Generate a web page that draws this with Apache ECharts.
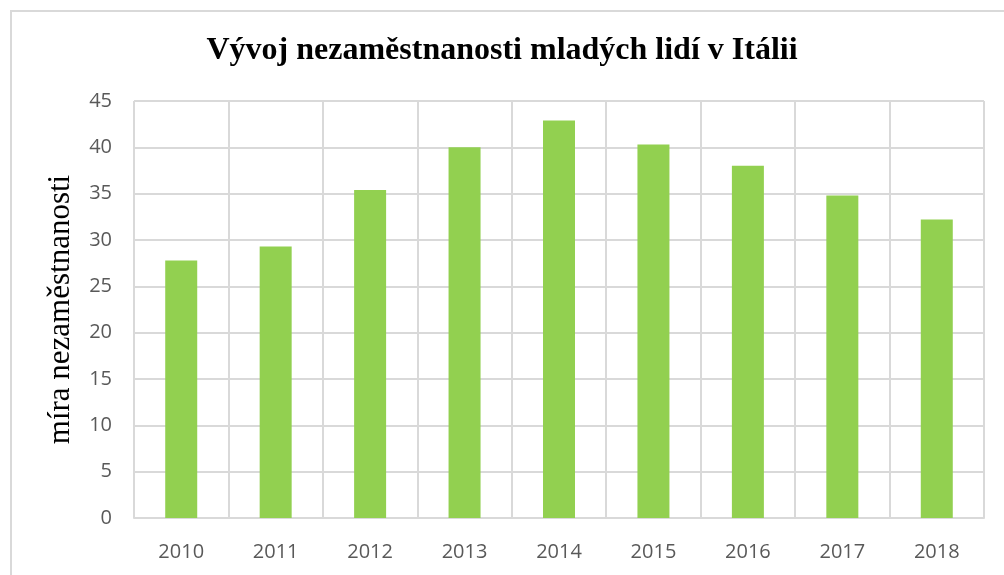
<!DOCTYPE html>
<html>
<head>
<meta charset="utf-8">
<script src="https://cdn.jsdelivr.net/npm/echarts@6/dist/echarts.min.js"></script>
<style>
    html, body {margin: 0; padding: 0; background: #fff;}
    #chart {width: 1004px; height: 575px;}
</style>
</head>
<body>
<div id="chart"></div>
<script>
    // data
    var years = ['2010', '2011', '2012', '2013', '2014', '2015', '2016', '2017', '2018'];
    var rates = [27.8, 29.3, 35.4, 40.0, 42.9, 40.3, 38.0, 34.8, 32.2];
    var chartTitle = 'Vývoj nezaměstnanosti mladých lidí v Itálii';
    var yName = 'míra nezaměstnanosti';

    var chart = echarts.init(document.getElementById('chart'));
    var gridColor = '#d9d9d9';
    var labelColor = '#595959';
    var option = {
        animation: false,
        title: {
            text: chartTitle,
            left: 'center',
            top: 30,
            textStyle: {
                fontFamily: 'Liberation Serif',
                fontWeight: 'bold',
                fontSize: 32,
                color: '#000'
            }
        },
        graphic: [{
            type: 'rect',
            shape: {x: 11, y: 11, width: 1010, height: 600},
            style: {fill: 'none', stroke: gridColor, lineWidth: 2},
            silent: true
        }],
        grid: {left: 134, right: 20, top: 101, bottom: 57},
        xAxis: {
            type: 'category',
            data: years,
            boundaryGap: true,
            axisLine: {show: true, lineStyle: {color: gridColor, width: 2}},
            axisTick: {show: false},
            splitLine: {show: true, lineStyle: {color: gridColor, width: 2}},
            axisLabel: {
                color: labelColor,
                fontFamily: 'Open Sans',
                fontSize: 20,
                margin: 24
            }
        },
        yAxis: {
            type: 'value',
            min: 0,
            max: 45,
            interval: 5,
            name: yName,
            nameLocation: 'middle',
            nameGap: 58,
            nameTextStyle: {
                fontFamily: 'Liberation Serif',
                fontSize: 31,
                color: '#000'
            },
            axisLine: {show: false},
            axisTick: {show: false},
            splitLine: {lineStyle: {color: gridColor, width: 2}},
            axisLabel: {
                color: labelColor,
                fontFamily: 'Open Sans',
                fontSize: 20,
                margin: 22
            }
        },
        series: [{
            type: 'bar',
            data: rates,
            barWidth: 32,
            itemStyle: {color: '#92d050'}
        }]
    };
    chart.setOption(option);
</script>
</body>
</html>
